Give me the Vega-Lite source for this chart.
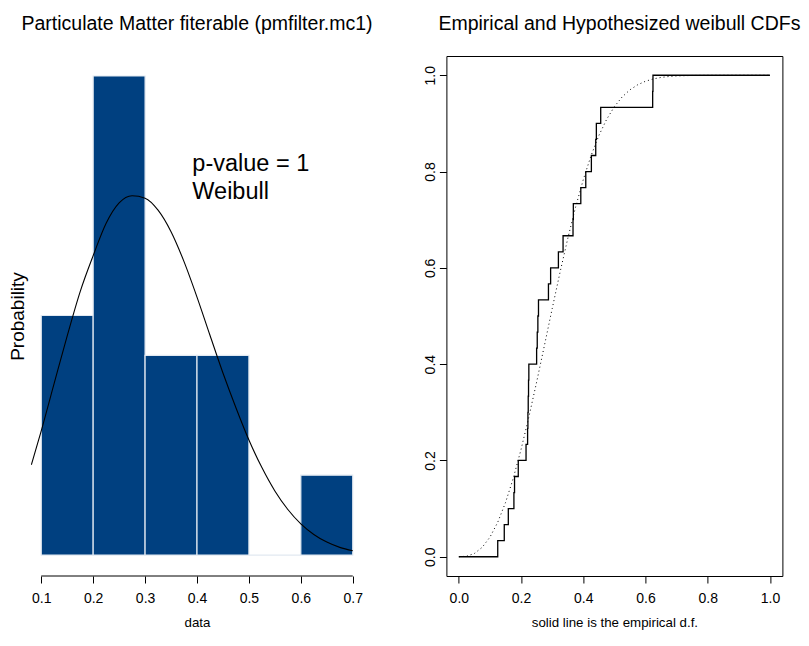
{
  "$schema": "https://vega.github.io/schema/vega-lite/v6.json",
  "padding": {"left": 8, "top": 13, "right": 5, "bottom": 5},
  "background": "white",
  "spacing": 81.4,
  "bounds": "flush",
  "config": {
    "font": "Liberation Sans",
    "view": {"stroke": null},
    "axis": {"grid": false, "domainColor": "black", "tickColor": "black", "labelColor": "black", "titleColor": "black", "labelFont": "Liberation Sans", "titleFont": "Liberation Sans", "labelFontSize": 14, "titleFontSize": 13.3, "titleFontWeight": "normal", "tickSize": 7, "labelPadding": 8.5, "titlePadding": 9.5, "labelFlush": false, "labelOverlap": false},
    "title": {"fontSize": 19.5, "fontWeight": "normal", "color": "black", "font": "Liberation Sans", "baseline": "alphabetic", "offset": 21.5, "anchor": "middle"}
  },
  "hconcat": [
    {
      "width": 336,
      "height": 520,
      "title": "Particulate Matter fiterable (pmfilter.mc1)",
      "layer": [
        {
          "data": {"values": [
            {"bin_start": 0.1, "bin_end": 0.2, "density": 2.0},
            {"bin_start": 0.2, "bin_end": 0.3, "density": 4.0},
            {"bin_start": 0.3, "bin_end": 0.4, "density": 1.6667},
            {"bin_start": 0.4, "bin_end": 0.5, "density": 1.6667},
            {"bin_start": 0.5, "bin_end": 0.6, "density": 0.0},
            {"bin_start": 0.6, "bin_end": 0.7, "density": 0.6667}
          ]},
          "mark": {"type": "rect", "color": "#004080", "stroke": "#e2e9f1", "strokeWidth": 1.2},
          "encoding": {
            "x": {"field": "bin_start", "type": "quantitative", "scale": {"domain": [0.0764, 0.7236], "nice": false, "zero": false},
                  "axis": {"values": [0.1, 0.2, 0.3, 0.4, 0.5, 0.6, 0.7], "format": ".1f", "domain": false, "title": "data"}},
            "x2": {"field": "bin_end"},
            "y": {"field": "density", "type": "quantitative", "scale": {"domain": [-0.175, 4.167], "nice": false, "zero": false},
                  "axis": {"title": "Probability", "domain": false, "ticks": false, "labels": false, "titleFontSize": 19, "titlePadding": 2}},
            "y2": {"datum": 0}
          }
        },
        {
          "data": {"values": [
            {"x": 0.081, "density": 0.754},
            {"x": 0.1, "density": 1.037},
            {"x": 0.125, "density": 1.435},
            {"x": 0.15, "density": 1.83},
            {"x": 0.175, "density": 2.2},
            {"x": 0.2, "density": 2.5},
            {"x": 0.225, "density": 2.77},
            {"x": 0.25, "density": 2.94},
            {"x": 0.275, "density": 3.0},
            {"x": 0.3, "density": 2.98},
            {"x": 0.325, "density": 2.88},
            {"x": 0.35, "density": 2.7},
            {"x": 0.375, "density": 2.45},
            {"x": 0.4, "density": 2.154},
            {"x": 0.425, "density": 1.835},
            {"x": 0.45, "density": 1.52},
            {"x": 0.475, "density": 1.23},
            {"x": 0.5, "density": 0.96},
            {"x": 0.525, "density": 0.73},
            {"x": 0.55, "density": 0.535},
            {"x": 0.575, "density": 0.38},
            {"x": 0.6, "density": 0.26},
            {"x": 0.625, "density": 0.172},
            {"x": 0.65, "density": 0.108},
            {"x": 0.675, "density": 0.064},
            {"x": 0.7, "density": 0.036}
          ]},
          "mark": {"type": "line", "color": "black", "strokeWidth": 1.1, "interpolate": "monotone"},
          "encoding": {
            "x": {"field": "x", "type": "quantitative"},
            "y": {"field": "density", "type": "quantitative"}
          }
        },
        {
          "data": {"values": [{}]},
          "mark": {"type": "rule", "color": "black", "strokeWidth": 1},
          "encoding": {"x": {"datum": 0.1}, "x2": {"datum": 0.7}, "y": {"datum": -0.175}}
        },
        {
          "data": {"values": [{"label": "p-value = 1\nWeibull"}]},
          "mark": {"type": "text", "align": "left", "baseline": "alphabetic", "fontSize": 23.5, "lineBreak": "\n", "lineHeight": 28, "color": "black"},
          "encoding": {"x": {"datum": 0.391}, "y": {"datum": 3.206}, "text": {"field": "label"}}
        }
      ]
    },
    {
      "width": 336,
      "height": 520,
      "title": {"text": "Empirical and Hypothesized weibull CDFs", "dx": 5},
      "view": {"stroke": "black", "strokeWidth": 1},
      "layer": [
        {
          "data": {"values": [
            {"x": 0.0, "F": 0.0},
            {"x": 0.125, "F": 0.0333},
            {"x": 0.146, "F": 0.0667},
            {"x": 0.159, "F": 0.1},
            {"x": 0.177, "F": 0.1333},
            {"x": 0.179, "F": 0.1667},
            {"x": 0.191, "F": 0.2},
            {"x": 0.216, "F": 0.2333},
            {"x": 0.221, "F": 0.2667},
            {"x": 0.222, "F": 0.3},
            {"x": 0.223, "F": 0.3333},
            {"x": 0.224, "F": 0.3667},
            {"x": 0.225, "F": 0.4},
            {"x": 0.25, "F": 0.4333},
            {"x": 0.252, "F": 0.4667},
            {"x": 0.254, "F": 0.5},
            {"x": 0.256, "F": 0.5333},
            {"x": 0.288, "F": 0.5667},
            {"x": 0.295, "F": 0.6},
            {"x": 0.32, "F": 0.6333},
            {"x": 0.335, "F": 0.6667},
            {"x": 0.367, "F": 0.7},
            {"x": 0.368, "F": 0.7333},
            {"x": 0.392, "F": 0.7667},
            {"x": 0.408, "F": 0.8},
            {"x": 0.426, "F": 0.8333},
            {"x": 0.44, "F": 0.8667},
            {"x": 0.442, "F": 0.9},
            {"x": 0.456, "F": 0.9333},
            {"x": 0.623, "F": 0.9667},
            {"x": 0.624, "F": 1.0},
            {"x": 1.0, "F": 1.0}
          ]},
          "mark": {"type": "line", "interpolate": "step-after", "color": "black", "strokeWidth": 1.3},
          "encoding": {
            "x": {"field": "x", "type": "quantitative", "scale": {"domain": [-0.04, 1.04], "nice": false, "zero": false},
                  "axis": {"values": [0, 0.2, 0.4, 0.6, 0.8, 1.0], "format": ".1f", "domain": false, "title": "solid line is the empirical d.f."}},
            "y": {"field": "F", "type": "quantitative", "scale": {"domain": [-0.04, 1.04], "nice": false, "zero": false},
                  "axis": {"values": [0, 0.2, 0.4, 0.6, 0.8, 1.0], "format": ".1f", "domain": false, "title": null, "labelAngle": -90, "labelAlign": "center", "labelBaseline": "bottom", "labelPadding": 2}}
          }
        },
        {
          "data": {"values": [
            {"x": 0.0, "F": 0.0},
            {"x": 0.025, "F": 0.0011},
            {"x": 0.05, "F": 0.0068},
            {"x": 0.075, "F": 0.0195},
            {"x": 0.1, "F": 0.0407},
            {"x": 0.125, "F": 0.0716},
            {"x": 0.15, "F": 0.1125},
            {"x": 0.175, "F": 0.1632},
            {"x": 0.2, "F": 0.223},
            {"x": 0.225, "F": 0.2901},
            {"x": 0.25, "F": 0.3627},
            {"x": 0.275, "F": 0.4386},
            {"x": 0.3, "F": 0.5151},
            {"x": 0.325, "F": 0.59},
            {"x": 0.35, "F": 0.6606},
            {"x": 0.375, "F": 0.7256},
            {"x": 0.4, "F": 0.7833},
            {"x": 0.425, "F": 0.8331},
            {"x": 0.45, "F": 0.8747},
            {"x": 0.475, "F": 0.9084},
            {"x": 0.5, "F": 0.9349},
            {"x": 0.525, "F": 0.955},
            {"x": 0.55, "F": 0.9698},
            {"x": 0.575, "F": 0.9803},
            {"x": 0.6, "F": 0.9876},
            {"x": 0.625, "F": 0.9924},
            {"x": 0.65, "F": 0.9955},
            {"x": 0.675, "F": 0.9974},
            {"x": 0.7, "F": 0.9986},
            {"x": 0.75, "F": 0.9996},
            {"x": 0.8, "F": 0.9999},
            {"x": 0.9, "F": 1.0},
            {"x": 1.0, "F": 1.0}
          ]},
          "mark": {"type": "line", "color": "black", "strokeWidth": 1, "strokeDash": [1, 3]},
          "encoding": {
            "x": {"field": "x", "type": "quantitative"},
            "y": {"field": "F", "type": "quantitative"}
          }
        }
      ]
    }
  ]
}
